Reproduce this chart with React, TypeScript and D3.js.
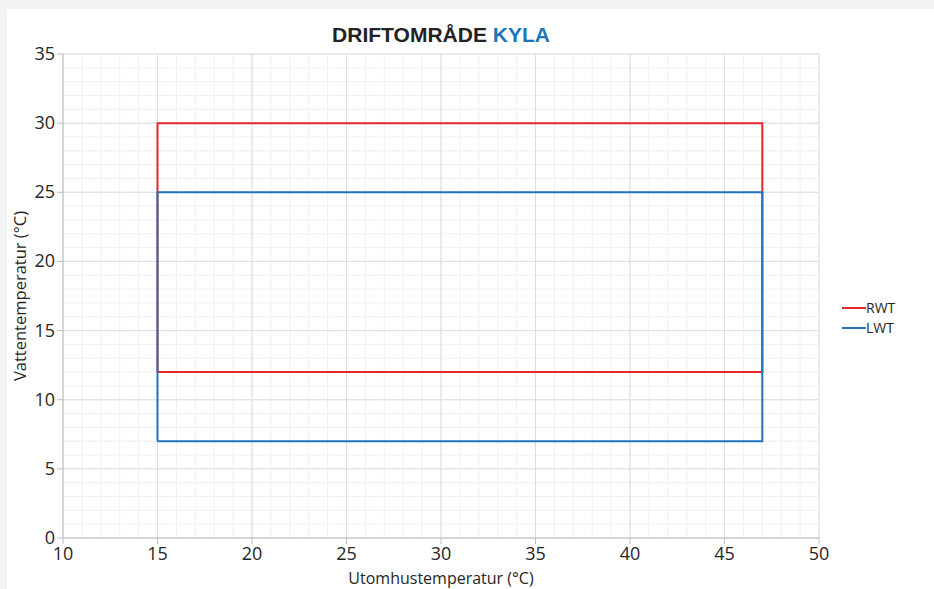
import React from 'react'
import * as d3 from 'd3'

const W = 934
const H = 589
const margin = { top: 54, right: 115, bottom: 51, left: 63 }

const xDomain = [10, 50]
const yDomain = [0, 35]
const xTicks = [10, 15, 20, 25, 30, 35, 40, 45, 50]
const yTicks = [0, 5, 10, 15, 20, 25, 30, 35]

// driftområde, hörn i ordning (utomhus, vatten)
const rwtX = [15, 15, 47, 47, 15]
const rwtY = [12, 30, 30, 12, 12]
const lwtX = [15, 15, 47, 47, 15]
const lwtY = [7, 25, 25, 7, 7]

const seriesNames = ['RWT', 'LWT']
const seriesColors = ['#e5262c', '#1f74bb']

export default function App() {
  const x = d3.scaleLinear().domain(xDomain).range([margin.left, W - margin.right])
  const y = d3.scaleLinear().domain(yDomain).range([H - margin.bottom, margin.top])

  const line = d3.line<[number, number]>().x(d => x(d[0])).y(d => y(d[1]))
  const rwt = rwtX.map((v, i) => [v, rwtY[i]] as [number, number])
  const lwt = lwtX.map((v, i) => [v, lwtY[i]] as [number, number])

  const minorX = d3.range(xDomain[0], xDomain[1] + 1, 1)
  const minorY = d3.range(yDomain[0], yDomain[1] + 1, 1)

  const tickFont = "'Open Sans', sans-serif"

  return (
    <svg width={W} height={H} style={{ position: 'absolute', left: 0, top: 0, background: '#f2f3f3' }}>
      <rect x={7} y={9} width={W - 7} height={H - 9} fill='#ffffff' />

      {/* minor grid */}
      {minorX.map(v => (
        <line key={'mx' + v} x1={x(v)} x2={x(v)} y1={y(35)} y2={y(0)} stroke='#f0f0f0' strokeWidth={1} />
      ))}
      {minorY.map(v => (
        <line key={'my' + v} x1={x(10)} x2={x(50)} y1={y(v)} y2={y(v)} stroke='#f0f0f0' strokeWidth={1} />
      ))}
      {/* major grid */}
      {xTicks.map(v => (
        <line key={'gx' + v} x1={x(v)} x2={x(v)} y1={y(35)} y2={y(0)} stroke='#dddddd' strokeWidth={1} />
      ))}
      {yTicks.map(v => (
        <line key={'gy' + v} x1={x(10)} x2={x(50)} y1={y(v)} y2={y(v)} stroke='#dddddd' strokeWidth={1} />
      ))}

      {/* axes */}
      <line x1={x(10)} x2={x(10)} y1={y(35)} y2={y(0)} stroke='#bfbfbf' />
      <line x1={x(10)} x2={x(50)} y1={y(0)} y2={y(0)} stroke='#bfbfbf' />
      {yTicks.map(v => (
        <g key={'ty' + v}>
          <line x1={x(10) - 6} x2={x(10)} y1={y(v)} y2={y(v)} stroke='#bfbfbf' />
          <text x={x(10) - 8} y={y(v) + 6} textAnchor='end' fontSize={18} fill='#262626' fontFamily={tickFont}>{v}</text>
        </g>
      ))}
      {xTicks.map(v => (
        <g key={'tx' + v}>
          <line x1={x(v)} x2={x(v)} y1={y(0)} y2={y(0) + 6} stroke='#bfbfbf' />
          <text x={x(v)} y={y(0) + 22} textAnchor='middle' fontSize={18} fill='#262626' fontFamily={tickFont}>{v}</text>
        </g>
      ))}

      {/* series */}
      <path d={line(rwt) || ''} fill='none' stroke={seriesColors[0]} strokeWidth={2} />
      <path d={line(lwt) || ''} fill='none' stroke={seriesColors[1]} strokeWidth={2} />

      {/* title */}
      <text x={441} y={42} textAnchor='middle' fontSize={21} fontWeight='bold' fontFamily="'Liberation Sans', Arial, sans-serif" fill='#222222'>
        DRIFTOMRÅDE <tspan fill='#1f74bb'>KYLA</tspan>
      </text>

      {/* axis titles */}
      <text x={x(30)} y={584} textAnchor='middle' fontSize={16} fill='#262626' fontFamily={tickFont}>Utomhustemperatur (°C)</text>
      <text transform={`translate(26, ${y(17.5)}) rotate(-90)`} textAnchor='middle' fontSize={16.5} fill='#262626' fontFamily={tickFont}>Vattentemperatur (°C)</text>

      {/* legend */}
      {seriesNames.map((name, i) => (
        <g key={name} transform={`translate(842, ${308 + i * 20})`}>
          <line x1={0} x2={24} y1={0} y2={0} stroke={seriesColors[i]} strokeWidth={2} />
          <text x={24} y={5} fontSize={14} fill='#262626' fontFamily={tickFont}>{name}</text>
        </g>
      ))}
    </svg>
  )
}
